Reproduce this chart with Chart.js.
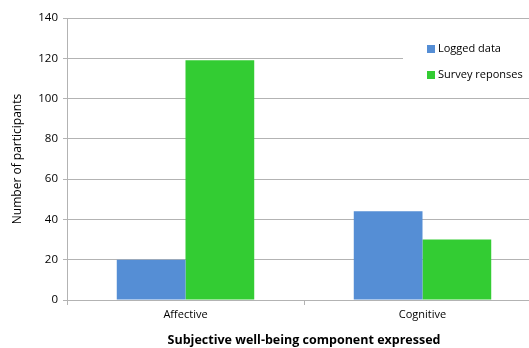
<!DOCTYPE html>
<html>
<head>
<meta charset="utf-8">
<script src="https://cdn.jsdelivr.net/npm/chart.js@4/dist/chart.umd.min.js"></script>
<style>
  html, body { margin: 0; padding: 0; background: #fff; overflow: hidden; }
  #wrap { position: relative; width: 545px; height: 348px; }
</style>
</head>
<body>
<div id="wrap"><canvas id="c"></canvas></div>
<script>
// Participants per subjective well-being component
const categories = ['Affective', 'Cognitive'];
const seriesNames = ['Logged data', 'Survey reponses'];
const loggedData = [20, 44];
const surveyResponses = [119, 30];
const yTicks = [0, 20, 40, 60, 80, 100, 120, 140];

const FONT = '"Open Sans", "Liberation Sans", sans-serif';
const GRID = '#b3b3b3';

// Boxed legend drawn inside the plot, top right
const boxLegend = {
  id: 'boxLegend',
  afterDraw(chart) {
    const ctx = chart.ctx;
    const x0 = 403, y0 = 36, w = 130, h = 54;
    ctx.save();
    ctx.fillStyle = '#fff';
    ctx.fillRect(x0, y0, w, h);
    ctx.font = '11px ' + FONT;
    ctx.textBaseline = 'middle';
    chart.data.datasets.forEach((ds, i) => {
      const cy = y0 + 13 + i * 26;
      ctx.fillStyle = ds.backgroundColor;
      ctx.fillRect(x0 + 24, cy - 4, 8, 8);
      ctx.fillStyle = '#000';
      ctx.fillText(ds.label, x0 + 35, cy);
    });
    ctx.restore();
  }
};

new Chart(document.getElementById('c'), {
  type: 'bar',
  data: {
    labels: categories,
    datasets: [
      { label: seriesNames[0], data: loggedData, backgroundColor: '#558ed5' },
      { label: seriesNames[1], data: surveyResponses, backgroundColor: '#33cc33' }
    ]
  },
  options: {
    responsive: true,
    maintainAspectRatio: false,
    animation: false,
    layout: { padding: { left: 6, top: 18, right: 4, bottom: 0 } },
    datasets: { bar: { categoryPercentage: 0.58, barPercentage: 1.0 } },
    plugins: { legend: { display: false }, tooltip: { enabled: false } },
    scales: {
      x: {
        offset: true,
        grid: { display: true, drawOnChartArea: false, drawTicks: true, tickLength: 5, color: GRID, offset: true },
        border: { display: true, color: GRID },
        ticks: { color: '#000', font: { family: FONT, size: 11 }, padding: 3 },
        title: { display: true, text: 'Subjective well-being component expressed', color: '#000',
                 font: { family: FONT, size: 12.5, weight: 'bold' }, padding: { top: 2, bottom: 0 } },
        afterFit(s) { s.width = s.width; s.height = 48; }
      },
      y: {
        min: 0, max: 140,
        afterBuildTicks(s) { s.ticks = yTicks.map(v => ({ value: v })); },
        grid: { color: GRID, tickLength: 4, lineWidth: 1 },
        border: { display: true, color: GRID },
        ticks: { color: '#000', font: { family: FONT, size: 11.5 }, padding: 5 },
        title: { display: true, text: 'Number of participants', color: '#000',
                 font: { family: FONT, size: 12 }, padding: { top: 4, bottom: 0 } },
        afterFit(s) { s.width = 61; }
      }
    }
  },
  plugins: [boxLegend]
});
</script>
</body>
</html>
